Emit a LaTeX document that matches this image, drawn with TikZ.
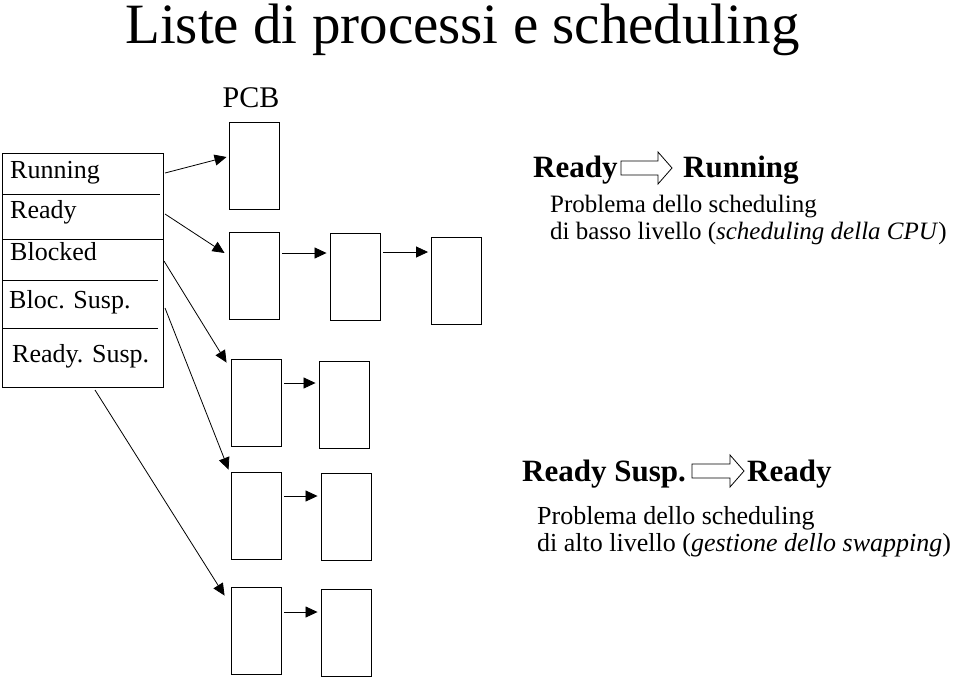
\documentclass[tikz,border=0pt]{standalone}
\usepackage{fontspec}
\setmainfont{Liberation Serif}
\usetikzlibrary{arrows.meta}
\usetikzlibrary{positioning}

\begin{document}
\begin{tikzpicture}[x=1pt,y=-1pt]
    \tikzset{pcbox/.style = {shape=rectangle,draw,line width=0.9pt,minimum width=50pt,minimum height=87pt,inner sep=0pt}}
    \tikzset{lbl/.style = {anchor=base west,inner sep=0pt,font=\fontsize{26}{28}\selectfont}}
    \tikzset{head/.style = {anchor=base west,inner sep=0pt,font=\fontsize{31}{33}\selectfont\bfseries}}
    \tikzset{edge/.style = {line width=0.8pt,-{Triangle[length=12pt,width=11pt]}}}
    \tikzset{chain/.style = {edge,shorten <=3pt,shorten >=3pt}}
    \tikzset{fatarw/.style = {draw,line width=0.8pt,fill=white}}

    \useasboundingbox (0,0) rectangle (960,678);

    % titolo
    \node[lbl,font=\fontsize{57}{60}\selectfont] (titolo) at (125,43) {Liste di processi e scheduling};
    \node[lbl,font=\fontsize{30}{32}\selectfont,anchor=base] (pcb) at (251,107) {PCB};

    % tabella delle liste
    \node[draw,line width=0.9pt,minimum width=161pt,minimum height=234pt,inner sep=0pt] (lista) at (82.5,270) {};
    \draw[line width=0.8pt] (3,194) -- (160,194);
    \draw[line width=0.8pt] (3,239) -- (163,239);
    \draw[line width=0.8pt] (3,280) -- (158,280);
    \draw[line width=0.8pt] (3,328) -- (158,328);

    \node[lbl] (lrun) at (10,178) {Running};
    \node[lbl] (lrdy) at (10,218) {Ready};
    \node[lbl] (lblk) at (10,260) {Blocked};
    \node[lbl] (lbs) at (9,308) {Bloc. Susp.};
    \node[lbl] (lrs) at (12,362) {Ready. Susp.};

    \coordinate (srun) at (165,173);
    \coordinate (srdy) at (165,214);
    \coordinate (sblk) at (164,261);
    \coordinate (sbs) at (165,308);
    \coordinate (srs) at (95,390);

    % PCB
    \node[pcbox] (run1) at (254,165.5) {};
    \node[pcbox] (rdy1) at (254,275.5) {};
    \node[pcbox] (rdy2) at (355,277) {};
    \node[pcbox] (rdy3) at (456.5,280.5) {};
    \node[pcbox] (blk1) at (256,403) {};
    \node[pcbox] (blk2) at (344,404.5) {};
    \node[pcbox] (bs1) at (256,515.5) {};
    \node[pcbox] (bs2) at (346,517) {};
    \node[pcbox] (rs1) at (256,630.5) {};
    \node[pcbox] (rs2) at (346,632.5) {};

    \draw[edge] (srun) -- ([shift={(-2,-8.5)}]run1.west);
    \draw[edge] (srdy) -- ([shift={(-4,-22.5)}]rdy1.west);
    \draw[edge] (sblk) -- ([shift={(-4,3.5)}]blk1.north west);
    \draw[edge] (sbs) -- ([shift={(-2,-2)}]bs1.north west);
    \draw[edge] (srs) -- ([shift={(-6,9)}]rs1.north west);

    \draw[chain] (rdy1.east |- 0,253) -- (rdy2.west |- 0,253);
    \draw[chain] (rdy2.east |- 0,252) -- (rdy3.west |- 0,252);
    \draw[chain] (blk1.east |- 0,383) -- (blk2.west |- 0,383);
    \draw[chain] (bs1.east |- 0,496) -- (bs2.west |- 0,496);
    \draw[chain] (rs1.east |- 0,612) -- (rs2.west |- 0,612);

    % scheduling a basso livello
    \node[head] (hrdy) at (533,177) {Ready};
    \node[head] (hrun) at (683,177) {Running};
    \draw[fatarw] (621,168) ++(0,-7) -- ++(37,0) -- ++(0,-9) -- ++(14,16) -- ++(-14,16) -- ++(0,-9) -- ++(-37,0) -- cycle;
    \node[lbl,font=\fontsize{25}{27}\selectfont] (basso1) at (550,212) {Problema dello scheduling};
    \node[lbl,font=\fontsize{25}{27}\selectfont] (basso2) at (550,239) {di basso livello (\textit{scheduling della CPU})};

    % scheduling ad alto livello
    \node[head] (hrs) at (522,481) {Ready Susp.};
    \node[head] (hrdy2) at (747,481) {Ready};
    \draw[fatarw] (692,471) ++(0,-7) -- ++(38,0) -- ++(0,-9) -- ++(14,16) -- ++(-14,16) -- ++(0,-9) -- ++(-38,0) -- cycle;
    \node[lbl] (alto1) at (537,524) {Problema dello scheduling};
    \node[lbl] (alto2) at (537,551) {di alto livello (\textit{gestione dello swapping})};
\end{tikzpicture}
\end{document}
